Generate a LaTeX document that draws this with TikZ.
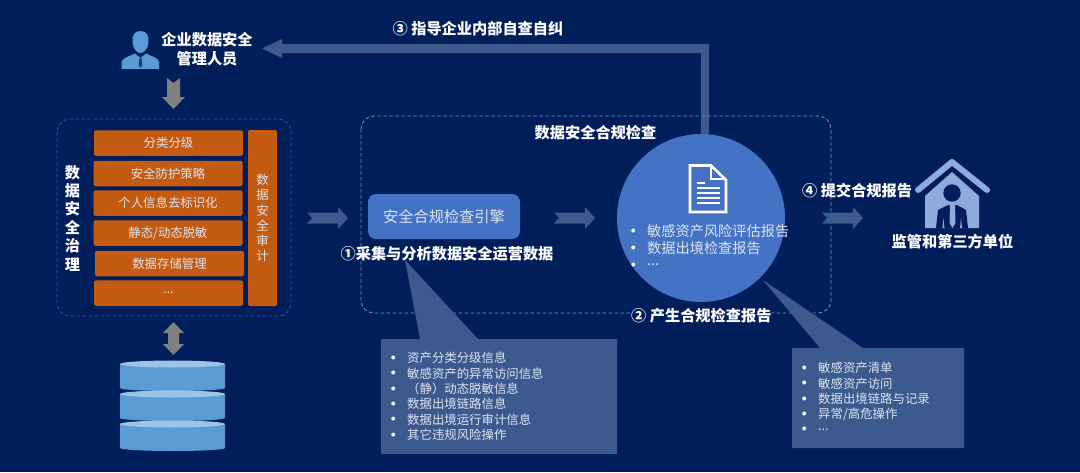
\documentclass[tikz,border=0pt]{standalone}
\usepackage{fontspec}
\setmainfont{Noto Sans CJK SC}
\definecolor{bgblue}{HTML}{001E5A}
\definecolor{fadeblue}{HTML}{3D5A8F}
\definecolor{midblue}{HTML}{4472C4}
\definecolor{skyblue}{HTML}{5B9BD5}
\definecolor{paleblue}{HTML}{9DC3E6}
\definecolor{houseblue}{HTML}{8FAADC}
\definecolor{rowbrown}{HTML}{C55A11}
\definecolor{softwhite}{HTML}{DDE5F3}
\begin{document}
\begin{tikzpicture}[
x = 1pt, y = -1pt,
headtext/.style = {text=white, inner sep=0pt, font=\fontsize{15.2}{18}\selectfont\bfseries},
steptext/.style = {headtext, anchor=west, fill=bgblue},
rowbox/.style = {fill=rowbrown, rounded corners=2pt, minimum width=149pt, minimum height=25.5pt, inner sep=0pt, text=softwhite, font=\fontsize{12.4}{15}\selectfont},
listitem/.style = {anchor=west, inner sep=0pt, text=softwhite, font=\fontsize{12.4}{15}\selectfont, label={[label distance=11pt, inner sep=0pt, text=white, font=\fontsize{10}{12}\selectfont]left:$\bullet$}},
biglistitem/.style = {listitem, font=\fontsize{14.2}{16}\selectfont},
zonebox/.style = {draw=#1, line width=0.8pt, dash pattern=on 3.5pt off 2.5pt, rounded corners=13pt},
notcharrow/.pic = {\fill[fadeblue] (0,-5.5) -- (31,-5.5) -- (31,-11) -- (41,0) -- (31,11) -- (31,5.5) -- (0,5.5) -- (5,0) -- cycle;},
dbdisk/.pic = {
\fill[skyblue] (-52.5,0) -- (-52.5,24) arc[start angle=180, end angle=360, x radius=52.5, y radius=-3] -- (52.5,0) -- cycle;
\fill[paleblue] (0,0) ellipse[x radius=52.5, y radius=3.5];
},
]
\fill[bgblue] (0,0) rectangle (1080,472);
\useasboundingbox (0,0) rectangle (1080,472);

\fill[fadeblue] (709,134) -- (709,44) -- (282,44) -- (282,39) -- (262,48.5) -- (282,58) -- (282,53) -- (701,53) -- (701,134) -- cycle;
\draw[zonebox=blue!45!bgblue!75!white] (57,119) rectangle (291,316);
\draw[zonebox=houseblue!85!bgblue] (361,116) rectangle (831,313);

\fill[skyblue] (140.5,31) .. controls (134,31) and (132,36) .. (132.5,42) .. controls (133,49) and (137,53) .. (140.5,53) .. controls (144,53) and (148,49) .. (148.5,42) .. controls (149,36) and (147,31) .. (140.5,31) -- cycle;
\fill[skyblue] (121.5,69) -- (121.5,62) .. controls (122,58) and (130,56) .. (135,53.5) -- (140.5,58) -- (146,53.5) .. controls (151,56) and (159,58) .. (159,62) -- (159,69) -- cycle;
\fill[bgblue!75!skyblue] (139.5,58) -- (141.5,58) -- (142.3,65) -- (140.5,68) -- (138.7,65) -- cycle;
\node[headtext, align=center, font=\fontsize{15.2}{19}\selectfont\bfseries] (manager) at (207,49.5) {企业数据安全\\管理人员};
\node[headtext] (step3) at (478,29) {③ 指导企业内部自查自纠};

\fill[gray] (167,78) -- (173.5,83) -- (180,78) -- (180,97) -- (185,97) -- (173.5,109) -- (162,97) -- (167,97) -- cycle;
\fill[gray] (173.5,322) -- (184,333) -- (179,333) -- (179,344) -- (184,344) -- (173.5,355) -- (163,344) -- (168,344) -- (168,333) -- (163,333) -- cycle;

\node[headtext, align=center, font=\fontsize{15.2}{18.4}\selectfont\bfseries] (govern) at (72.5,218) {数\\据\\安\\全\\治\\理};
\node[rowbox] (row1) at (168.5,143) {分类分级};
\node[rowbox] (row2) at (168,173.5) {安全防护策略};
\node[rowbox] (row3) at (168,203) {个人信息去标识化};
\node[rowbox] (row4) at (168,233) {静态/动态脱敏};
\node[rowbox] (row5) at (169.5,263.5) {数据存储管理};
\node[rowbox] (row6) at (168.5,293) {...};
\node[rowbox, minimum width=29pt, minimum height=176pt, align=center, font=\fontsize{12.4}{15.3}\selectfont] (audit) at (262.5,218) {数\\据\\安\\全\\审\\计};

\pic at (172.5,364) {dbdisk};
\pic at (172.5,394) {dbdisk};
\pic at (172.5,424) {dbdisk};

\pic at (307,218) {notcharrow};
\pic at (554,218) {notcharrow};
\pic at (822,218) {notcharrow};

\node[fill=midblue, rounded corners=8pt, minimum width=152pt, minimum height=45pt, inner sep=0pt, text=softwhite, font=\fontsize{15.2}{18}\selectfont] (engine) at (444,216.5) {安全合规检查引擎};
\node[headtext] (step1) at (447,254) {①采集与分析数据安全运营数据};
\node[headtext] (zone) at (595.5,133) {数据安全合规检查};

\fill[fadeblue] (405,260) -- (478,339) -- (617,339) -- (617,454) -- (381,454) -- (381,339) -- (420,339) -- cycle;
\node[listitem] (info1) at (407,358) {资产分类分级信息};
\node[listitem] (info2) at (407,373.5) {敏感资产的异常访问信息};
\node[listitem] (info3) at (407,389) {（静）动态脱敏信息};
\node[listitem] (info4) at (407,404) {数据出境链路信息};
\node[listitem] (info5) at (407,419.5) {数据出境运行审计信息};
\node[listitem] (info6) at (407,435) {其它违规风险操作};

\fill[fadeblue] (763,280) -- (863,348) -- (964,348) -- (964,448) -- (792,448) -- (792,348) -- (820,348) -- cycle;
\node[listitem] (item1) at (818,368) {敏感资产清单};
\node[listitem] (item2) at (818,383.5) {敏感资产访问};
\node[listitem] (item3) at (818,399) {数据出境链路与记录};
\node[listitem] (item4) at (818,414) {异常/高危操作};
\node[listitem] (item5) at (818,429.5) {...};

\node[circle, fill=midblue, minimum size=168pt, inner sep=0pt] (report) at (701,218) {};
\draw[white, line width=2.6pt, fill=midblue, line join=miter] (690,165.5) -- (711,165.5) -- (726,180) -- (726,212) -- (690,212) -- cycle;
\draw[white, line width=2pt] (711,165.5) -- (711,179) -- (726,179);
\draw[white, line width=1.6pt] (697,183) -- (705,183) (697,188) -- (720,188) (697,193) -- (720,193) (697,198) -- (720,198) (697,203) -- (720,203);
\node[biglistitem] (report1) at (647,231) {敏感资产风险评估报告};
\node[biglistitem] (report2) at (647,248) {数据出境检查报告};
\node[biglistitem] (report3) at (647,265) {...};
\node[steptext] (step2) at (631,316) {② 产生合规检查报告};
\node[steptext, fill=none] (step4) at (802,191) {④ 提交合规报告};

\fill[houseblue] (925,228) -- (925,196) -- (952,172) -- (979,196) -- (979,228) -- cycle;
\draw[houseblue, line width=6pt, line cap=round, line join=round] (918,190) -- (952,162) -- (987,190);
\fill[bgblue] (952,193) circle[radius=8.7];
\fill[bgblue] (936,228) -- (938,210) -- (948,205) -- (957,205) -- (966,210) -- (968,228) -- cycle;
\fill[houseblue] (950,204) -- (955,204) -- (955.5,223) -- (952.5,228) -- (949.5,223) -- cycle;
\fill[houseblue] (942.5,228) -- (943.5,218) -- (944.5,228) -- cycle (960,228) -- (961,218) -- (962,228) -- cycle;
\node[headtext] (regulator) at (952.5,242) {监管和第三方单位};
\end{tikzpicture}
\end{document}
